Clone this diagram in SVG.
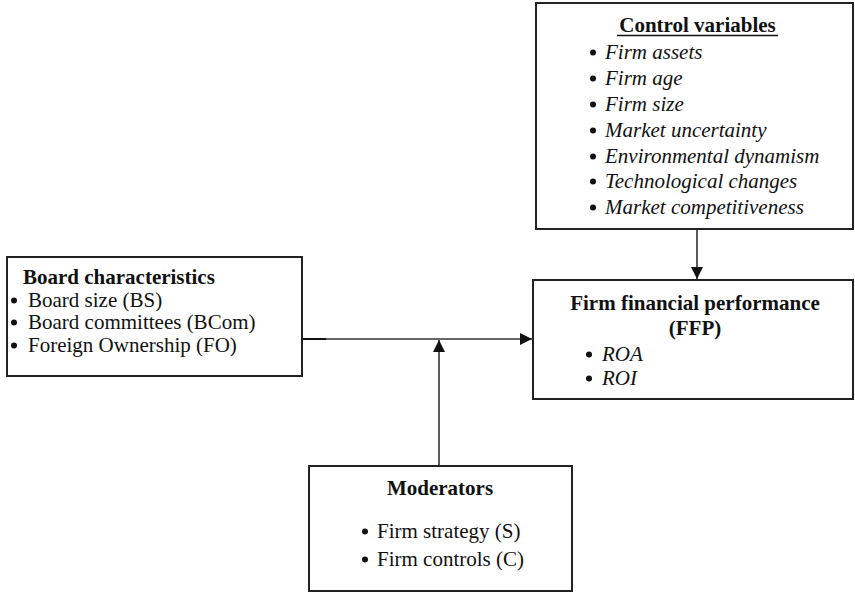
<svg xmlns="http://www.w3.org/2000/svg" width="855" height="592" viewBox="0 0 855 592">
<style>
.box{fill:#fff;stroke:#222;stroke-width:2}
.t{font-family:'Liberation Serif',Tinos,'Times New Roman',Times,'DejaVu Serif',serif;font-size:21px;fill:#111}
.b{font-weight:bold}
.i{font-style:italic}
.dot{fill:#111}
.ln{stroke:#333;stroke-width:1.6;fill:none}
</style>
<defs>
<marker id="ah" markerWidth="12" markerHeight="12" viewBox="0 0 12 12" refX="12" refY="6" orient="auto" markerUnits="userSpaceOnUse">
<path d="M0,0 L12,6 L0,12 z" fill="#111"/>
</marker>
</defs>
<g id="connectors">
<line class="ln" x1="302" y1="339" x2="532" y2="339" marker-end="url(#ah)"/>
<line x1="302" y1="339" x2="326" y2="339" stroke="#111" stroke-width="2"/>
<line class="ln" x1="439" y1="466" x2="439" y2="340" marker-end="url(#ah)"/>
<line class="ln" x1="697" y1="230" x2="697" y2="279" marker-end="url(#ah)"/>
</g>
<g id="control">
<rect class="box" x="536" y="3" width="317" height="226"/>
<text class="t b" x="697.5" y="32" text-anchor="middle">Control variables</text>
<line x1="617" y1="35.5" x2="778" y2="35.5" stroke="#111" stroke-width="1.5"/>
<circle class="dot" cx="593" cy="52.5" r="3"/><text class="t i" x="605" y="59">Firm assets</text>
<circle class="dot" cx="593" cy="78.5" r="3"/><text class="t i" x="605" y="85">Firm age</text>
<circle class="dot" cx="593" cy="104.5" r="3"/><text class="t i" x="605" y="111">Firm size</text>
<circle class="dot" cx="593" cy="130.5" r="3"/><text class="t i" x="605" y="137">Market uncertainty</text>
<circle class="dot" cx="593" cy="156.5" r="3"/><text class="t i" x="605" y="163">Environmental dynamism</text>
<circle class="dot" cx="593" cy="181.5" r="3"/><text class="t i" x="605" y="188">Technological changes</text>
<circle class="dot" cx="593" cy="207.5" r="3"/><text class="t i" x="605" y="214">Market competitiveness</text>
</g>
<g id="board">
<rect class="box" x="7" y="257" width="295" height="119"/>
<text class="t b" x="23" y="284">Board characteristics</text>
<circle class="dot" cx="14" cy="300.5" r="3"/><text class="t" x="28" y="307">Board size (BS)</text>
<circle class="dot" cx="14" cy="322.5" r="3"/><text class="t" x="28" y="329">Board committees (BCom)</text>
<circle class="dot" cx="14" cy="345.5" r="3"/><text class="t" x="28" y="352">Foreign Ownership (FO)</text>
</g>
<g id="ffp">
<rect class="box" x="533" y="280" width="320" height="119"/>
<text class="t b" x="695" y="310" text-anchor="middle">Firm financial performance</text>
<text class="t b" x="695" y="335" text-anchor="middle">(FFP)</text>
<circle class="dot" cx="589" cy="354.5" r="3"/><text class="t i" x="602" y="361">ROA</text>
<circle class="dot" cx="589" cy="378.5" r="3"/><text class="t i" x="602" y="385">ROI</text>
</g>
<g id="moderators">
<rect class="box" x="309" y="466" width="263" height="125"/>
<text class="t b" x="440" y="495" text-anchor="middle">Moderators</text>
<circle class="dot" cx="365" cy="531.5" r="3"/><text class="t" x="377" y="538">Firm strategy (S)</text>
<circle class="dot" cx="365" cy="559.5" r="3"/><text class="t" x="377" y="566">Firm controls (C)</text>
</g>
</svg>
